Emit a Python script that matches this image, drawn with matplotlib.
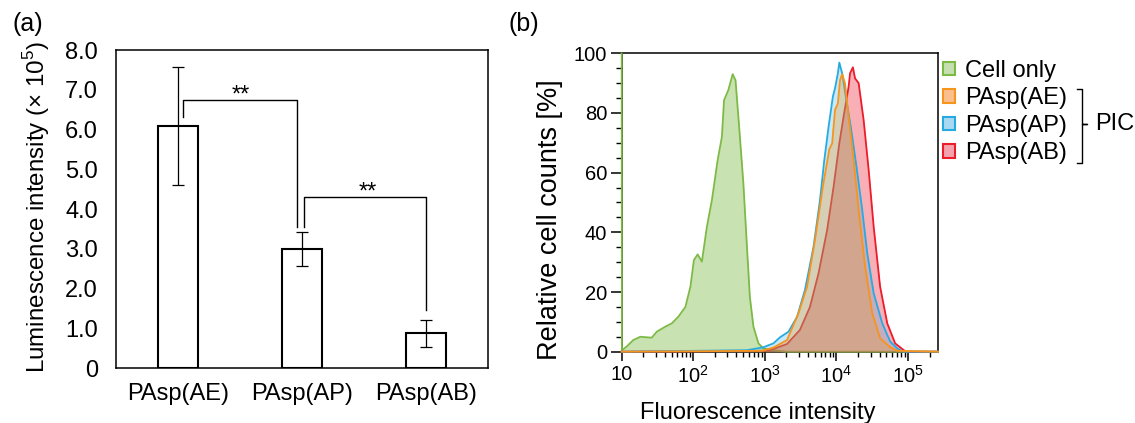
import numpy as np
import matplotlib
matplotlib.use("Agg")
import matplotlib.pyplot as plt
from matplotlib.patches import Patch
from matplotlib.lines import Line2D
from matplotlib.ticker import FixedLocator, MultipleLocator, LogLocator, NullFormatter

plt.rcParams['font.family'] = ['Liberation Sans', 'DejaVu Sans']
plt.rcParams['mathtext.fontset'] = 'custom'
plt.rcParams['mathtext.rm'] = 'Liberation Sans'

# (a) luminescence
groups = ['PAsp(AE)', 'PAsp(AP)', 'PAsp(AB)']
lum_mean = [6.08, 3.0, 0.88]
lum_err = [1.48, 0.43, 0.34]

# (b) flow cytometry histograms: fluorescence intensity / relative counts [%]
cell_x = [10, 10.07, 11.7, 14.5, 18.2, 26.3, 30.9, 40.7, 50.1, 61.7, 77.6, 91.2, 102, 115, 132,
          155, 182, 219, 251, 269, 309, 355, 389, 437, 501, 562, 617, 692, 813, 955, 1318,
          1995, 262144]
cell_y = [100, 0.5, 1.7, 3.9, 5.0, 4.7, 6.7, 8.4, 9.5, 11.7, 15.0, 21.8, 30.7, 32.6, 30.2,
          41.9, 50.8, 64.2, 72.0, 84.3, 87.7, 93.0, 91.0, 75.4, 56.4, 35.2, 18.4, 8.4, 2.8, 1.1, 0.5,
          0, 0]

ae_x = [10, 912, 1318, 2042, 2951, 3890, 5012, 6457, 7943, 8710, 9550, 10470, 11220, 12023,
        13183, 14791, 17378, 20417, 25119, 31623, 40738, 56234, 70795, 262144]
ae_y = [0, 0.3, 1.4, 3.9, 12.9, 21.8, 37.4, 55.3, 67.8, 69.8, 81.0, 83.2, 91.0, 93.0,
        89.9, 78.8, 64.2, 47.5, 28.5, 12.9, 4.5, 1.5, 0.3, 0]

ap_x = [10, 562, 955, 1318, 1622, 2138, 2818, 3631, 4786, 5888, 6761, 7762, 8913, 9550, 10470,
        10965, 12023, 13490, 15849, 19055, 22909, 26915, 33113, 43652, 56234, 70795, 85114, 262144]
ap_y = [0, 0.5, 1.5, 2.8, 4.8, 6.7, 11.7, 20.7, 35.2, 50.8, 64.2, 75.4, 85.5, 88.3, 93.3,
        96.9, 93.3, 85.5, 75.4, 62.0, 47.5, 33.0, 19.6, 9.5, 3.4, 1.1, 0, 0]

ab_x = [10, 1122, 2042, 3090, 4266, 5623, 7413, 9120, 10965, 12589, 14791, 15488, 16982, 18197,
        20417, 23988, 28184, 33113, 40738, 51286, 66069, 83176, 93325, 262144]
ab_y = [0, 0.3, 2.6, 7.3, 15.0, 26.3, 40.8, 55.3, 69.8, 78.8, 88.8, 93.3, 95.3, 91.6,
        90.0, 77.6, 60.9, 41.9, 21.8, 9.5, 2.8, 0.9, 0, 0]

W, H = 1135, 423


def fx(x):
    return x / W


def fy(y):
    return 1 - y / H


fig = plt.figure(figsize=(W / 100, H / 100), dpi=100)

# ---------------- (a) bar chart ----------------
ax1 = fig.add_axes([fx(116), fy(368), (488 - 116) / W, (368 - 50) / H])
pos = np.arange(len(groups))
ax1.bar(pos, lum_mean, width=0.315, color='white', edgecolor='black', linewidth=1.5, zorder=2)
ax1.errorbar(pos, lum_mean, yerr=lum_err, fmt='none', ecolor='black', elinewidth=0.9,
             capsize=4.5, capthick=0.9, zorder=3)
ax1.set_xlim(-0.5, 2.5)
ax1.set_ylim(0, 8)
ax1.set_xticks(pos)
ax1.set_xticklabels(groups, fontsize=17)
ax1.set_yticks(np.arange(0, 9))
ax1.set_yticklabels(['0'] + ['%.1f' % v for v in range(1, 9)], fontsize=17)
ax1.tick_params(axis='both', length=0)
ax1.tick_params(axis='y', pad=13)
ax1.tick_params(axis='x', pad=11)
for s in ax1.spines.values():
    s.set_linewidth(1.1)
ax1.set_ylabel('Luminescence intensity (× 10$^{5}$)', fontsize=17.4)
ax1.yaxis.set_label_coords(-0.173, 0.505)

# significance brackets
def bracket(ax, x0, y0, x1, y1, top, label, lx):
    ax.plot([x0, x0, x1, x1], [y0, top, top, y1], color='black', lw=1.0, zorder=4)
    ax.text(lx, top - 0.04, label, ha='center', va='baseline', fontsize=17)

bracket(ax1, 0.04, 6.32, 0.96, 3.55, 6.74, '**', 0.51)
bracket(ax1, 1.02, 3.55, 2.0, 1.45, 4.3, '**', 1.53)

fig.text(fx(12), fy(12), '(a)', fontsize=18, va='top', ha='left')

# ---------------- (b) histograms ----------------
ax2 = fig.add_axes([fx(621.7), fy(351.7), (938 - 621.7) / W, (351.7 - 53.3) / H])
series = [
    (cell_x, cell_y, '#7dba45', 0.42, 'Cell only'),
    (ab_x, ab_y, '#ec1c2b', 0.35, 'PAsp(AB)'),
    (ap_x, ap_y, '#27aae1', 0.25, 'PAsp(AP)'),
    (ae_x, ae_y, '#f7941d', 0.30, 'PAsp(AE)'),
]
for i, (xs, ys, c, a, name) in enumerate(series):
    ax2.fill_between(xs, ys, 0, color=c, alpha=a, lw=0, zorder=3 + i)
    ax2.plot(xs, ys, color=c, lw=1.3, zorder=3 + i, clip_on=False)

ax2.set_xscale('log')
ax2.set_xlim(10, 262144)
ax2.set_ylim(0, 100)
ax2.xaxis.set_major_locator(FixedLocator([10, 1e2, 1e3, 1e4, 1e5]))
ax2.set_xticklabels(['10', r'$\mathregular{10^{2}}$', r'$\mathregular{10^{3}}$',
                     r'$\mathregular{10^{4}}$', r'$\mathregular{10^{5}}$'], fontsize=14.5)
ax2.xaxis.set_minor_locator(LogLocator(base=10, subs=np.arange(2, 10), numticks=20))
ax2.xaxis.set_minor_formatter(NullFormatter())
ax2.yaxis.set_major_locator(MultipleLocator(20))
ax2.yaxis.set_minor_locator(MultipleLocator(5))
ax2.tick_params(axis='y', which='major', length=8, width=1.1, labelsize=14.5, pad=2.5)
ax2.tick_params(axis='y', which='minor', length=4, width=1.0)
ax2.tick_params(axis='x', which='major', length=6.5, width=1.1, pad=3)
ax2.tick_params(axis='x', which='minor', length=3.5, width=1.0)
for s in ax2.spines.values():
    s.set_linewidth(1.1)
ax2.set_xlabel('Fluorescence intensity', fontsize=17)
ax2.xaxis.set_label_coords(0.431, -0.169)
ax2.set_ylabel('Relative cell counts [%]', fontsize=19.5)
ax2.yaxis.set_label_coords(-0.185, 0.441)

fig.text(fx(508), fy(12), '(b)', fontsize=18, va='top', ha='left')

# legend with pastel swatches
handles = [
    Patch(facecolor='#c5e0b0', edgecolor='#7dba45', lw=1.5, label='Cell only'),
    Patch(facecolor='#f9bf8f', edgecolor='#f7941d', lw=1.5, label='PAsp(AE)'),
    Patch(facecolor='#aad8f2', edgecolor='#27aae1', lw=1.5, label='PAsp(AP)'),
    Patch(facecolor='#f4a3ae', edgecolor='#ec1c2b', lw=1.5, label='PAsp(AB)'),
]
fig.legend(handles=handles, loc='upper left', bbox_to_anchor=(fx(943), fy(60)),
           frameon=False, fontsize=17, handlelength=0.5, handleheight=0.5,
           handletextpad=0.45, labelspacing=0.23, borderpad=0, borderaxespad=0)

# brace grouping the PIC samples
bx = [fx(1076.7), fx(1081.7), fx(1081.7), fx(1086.7), fx(1081.7), fx(1081.7), fx(1076.7)]
by = [fy(89), fy(89), fy(124), fy(124), fy(124), fy(163), fy(163)]
fig.add_artist(Line2D(bx, by, color='black', lw=1.0, transform=fig.transFigure))
fig.text(fx(1095), fy(124), 'PIC', fontsize=17, va='center', ha='left')

fig.savefig('out.png', dpi=100)
